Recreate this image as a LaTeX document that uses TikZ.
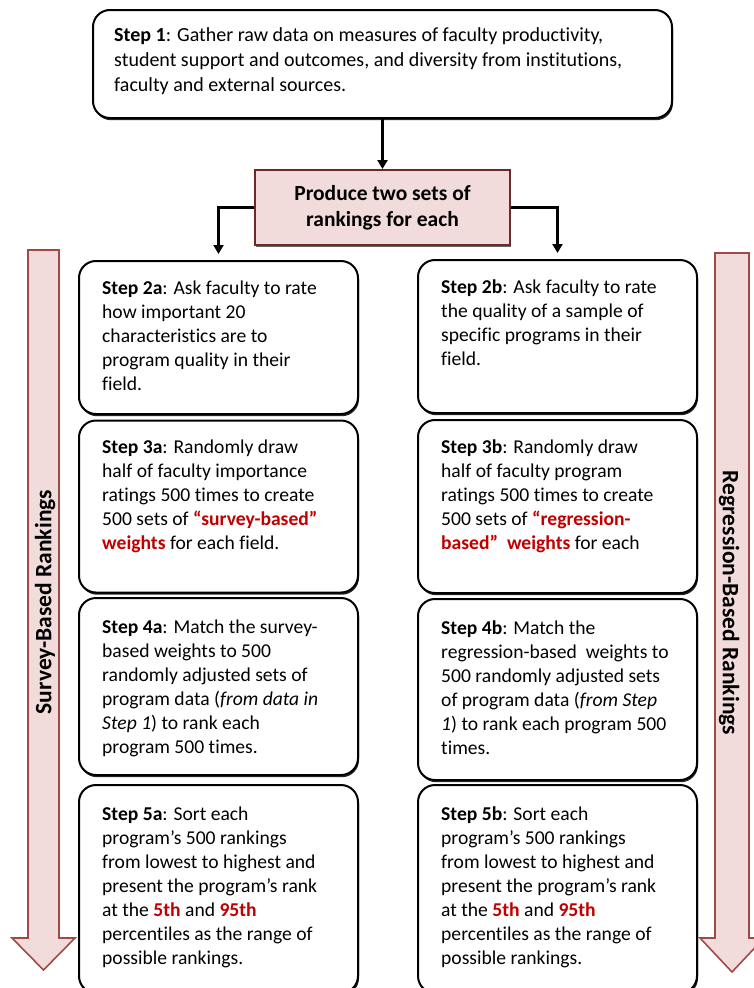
\documentclass[tikz,border=0pt]{standalone}
\usepackage{fontspec}
\setmainfont[Ligatures=NoCommon]{Carlito}
\usetikzlibrary{arrows.meta,shadows,calc}
\definecolor{pinkfill}{HTML}{F2DCDB}
\definecolor{arrowedge}{HTML}{A04A48}
\definecolor{prodedge}{HTML}{6B2A28}
\definecolor{hired}{HTML}{C00000}
\newcommand{\hl}[1]{\textcolor{hired}{\textbf{#1}}}
\tikzset{
  stepbox/.style={draw=black, line width=2pt, rounded corners=17pt, fill=white,
    drop shadow={shadow xshift=1pt, shadow yshift=-2.2pt, opacity=0.85, fill=black},
    inner sep=0pt, minimum width=279pt},
  steptext/.style={anchor=north west, align=left, inner sep=0pt,
    font=\fontsize{19.6}{24}\selectfont},
  prodbox/.style={draw=prodedge, line width=2pt, fill=pinkfill,
    drop shadow={shadow xshift=1pt, shadow yshift=-1.5pt, opacity=0.6, fill=black},
    minimum width=255pt, minimum height=75pt, align=center,
    font=\fontsize{21.5}{26}\selectfont\bfseries},
  conn/.style={line width=2.6pt, -{Triangle[width=10pt,length=9pt]}},
  bigarrow/.style={draw=arrowedge, line width=1.6pt, fill=pinkfill, line join=miter},
  sidetext/.style={font=\fontsize{23.5}{26}\selectfont\bfseries, inner sep=0pt}
}
\begin{document}
\begin{tikzpicture}[x=1pt,y=-1pt]
\useasboundingbox (0,0) rectangle (754,988);
% big side arrows
\draw[bigarrow] (28,250) -- (59,250) -- (59,938) -- (75,938) -- (43.5,970) -- (12,938) -- (28,938) -- cycle;
\draw[bigarrow] (715,253) -- (749,253) -- (749,938) -- (764,938) -- (732,972) -- (700,938) -- (715,938) -- cycle;
\node[sidetext, rotate=90] (survey) at (45,602) {Survey-Based Rankings};
\node[sidetext, rotate=-90] (regr) at (729,603) {Regression-Based Rankings};

% step 1
\node[stepbox, minimum width=579pt, minimum height=108pt] (s1) at (382.5,64) {};
\node[steptext, font=\fontsize{20}{25}\selectfont] (s1t) at (114,27) {\textbf{Step 1}: Gather raw data on measures of faculty productivity,\\student support and outcomes, and diversity from institutions,\\faculty and external sources.};

% produce
\node[prodbox] (prod) at (382.5,207.5) {Produce two sets of\\rankings for each};

% left column
\node[stepbox, minimum height=153pt] (s2a) at (218.5,337.5) {};
\node[stepbox, minimum height=172pt] (s3a) at (218.5,506.5) {};
\node[stepbox, minimum height=177pt] (s4a) at (218.5,686.5) {};
\node[stepbox, minimum height=208pt] (s5a) at (218.5,889) {};
% right column
\node[stepbox, minimum height=153pt] (s2b) at (557.5,336.5) {};
\node[stepbox, minimum height=173pt] (s3b) at (557.5,506.5) {};
\node[stepbox, minimum height=181pt] (s4b) at (557.5,689.5) {};
\node[stepbox, minimum height=208pt] (s5b) at (557.5,889) {};

% texts left
\node[steptext] (s2at) at (102,281) {\textbf{Step 2a}: Ask faculty to rate\\how important 20\\characteristics are to\\program quality in their\\field.};
\node[steptext] (s3at) at (102,440) {\textbf{Step 3a}: Randomly draw\\half of faculty importance\\ratings 500 times to create\\500 sets of \hl{“survey-based”}\\\hl{weights} for each field.};
\node[steptext] (s4at) at (102,620) {\textbf{Step 4a}: Match the survey-\\based weights to 500\\randomly adjusted sets of\\program data (\textit{from data in}\\\textit{Step 1}) to rank each\\program 500 times.};
\node[steptext] (s5at) at (102,807) {\textbf{Step 5a}: Sort each\\program’s 500 rankings\\from lowest to highest and\\present the program’s rank\\at the \hl{5th} and \hl{95th}\\percentiles as the range of\\possible rankings.};
% texts right
\node[steptext] (s2bt) at (441,280) {\textbf{Step 2b}: Ask faculty to rate\\the quality of a sample of\\specific programs in their\\field.};
\node[steptext] (s3bt) at (441,440) {\textbf{Step 3b}: Randomly draw\\half of faculty program\\ratings 500 times to create\\500 sets of \hl{“regression-}\\\hl{based”\ \ weights} for each};
\node[steptext] (s4bt) at (441,621) {\textbf{Step 4b}: Match the\\regression-based\ \ weights to\\500 randomly adjusted sets\\of program data (\textit{from Step}\\\textit{1}) to rank each program 500\\times.};
\node[steptext] (s5bt) at (441,807) {\textbf{Step 5b}: Sort each\\program’s 500 rankings\\from lowest to highest and\\present the program’s rank\\at the \hl{5th} and \hl{95th}\\percentiles as the range of\\possible rankings.};

% connectors
\draw[conn] (s1.south) -- (prod.north);
\draw[conn, shorten >=6pt] (prod.west) -| (s2a.north);
\draw[conn, shorten >=6pt] (prod.east) -| (s2b.north);
\end{tikzpicture}
\end{document}
